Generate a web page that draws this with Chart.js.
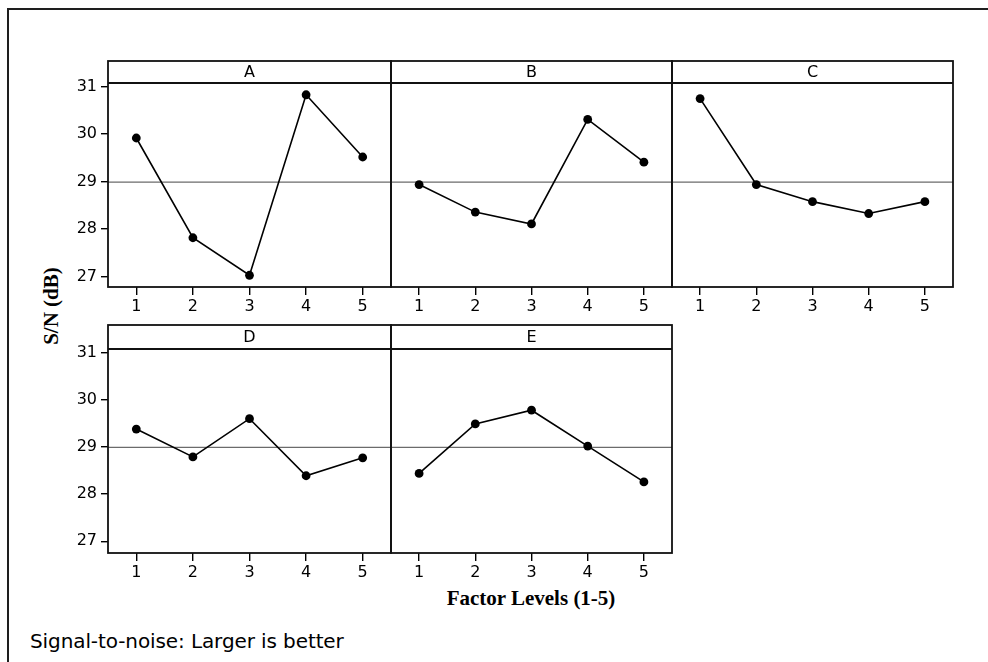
<!DOCTYPE html>
<html><head><meta charset="utf-8">
<script src="https://cdn.jsdelivr.net/npm/chart.js@4.4.1/dist/chart.umd.min.js"></script>
<style>
html,body{margin:0;padding:0;background:#fff;overflow:hidden;}
#page{position:relative;width:988px;height:662px;overflow:hidden;background:#fff;}
#frame{position:absolute;left:7px;top:8px;width:1100px;height:800px;border:2px solid #1e1e1e;}
canvas{position:absolute;left:0;top:0;}
.txt{position:absolute;white-space:nowrap;color:#000;}
#ytitle{font:bold 21px "Liberation Serif";line-height:21px;left:51px;top:306px;transform:translate(-50%,-50%) rotate(-90deg);}
#xtitle{font:bold 21px "Liberation Serif";line-height:21px;left:531px;top:598px;transform:translate(-50%,-50%);}
#note{font:20px "DejaVu Sans";line-height:20px;left:30px;top:631px;letter-spacing:-0.1px;}
</style>
</head><body>
<div id="page">
  <div id="frame"></div>
  <div class="txt" id="ytitle">S/N (dB)</div>
  <div class="txt" id="xtitle">Factor Levels (1-5)</div>
  <div class="txt" id="note">Signal-to-noise: Larger is better</div>
</div>
<script>
// ---- data ----
const levels = [1, 2, 3, 4, 5];
const yTickValues = [27, 28, 29, 30, 31];
const factorNames = ['A', 'B', 'C', 'D', 'E'];
const snA = [29.92, 27.82, 27.03, 30.83, 29.52];
const snB = [28.94, 28.36, 28.11, 30.31, 29.41];
const snC = [30.75, 28.94, 28.58, 28.33, 28.58];
const snD = [29.38, 28.79, 29.60, 28.39, 28.77];
const snE = [28.44, 29.49, 29.78, 29.02, 28.26];
const grandMean = 28.99;

// ---- layout (style) ----
const W = 988, H = 662;
const colEdges = [108, 391, 672, 953];
const rows = [
  {top: 61, bottom: 287, min: 26.783, max: 31.541, strip: 22},
  {top: 325, bottom: 553, min: 26.752, max: 31.587, strip: 24}
];
const panels = [
  {name: factorNames[0], vals: snA, row: 0, col: 0},
  {name: factorNames[1], vals: snB, row: 0, col: 1},
  {name: factorNames[2], vals: snC, row: 0, col: 2},
  {name: factorNames[3], vals: snD, row: 1, col: 0},
  {name: factorNames[4], vals: snE, row: 1, col: 1}
];
const Y_AXIS_W = 40, X_AXIS_H = 40;
const tickFont = {family: 'DejaVu Sans', size: 16};

function panelPlugin(label, stripH) {
  return {
    id: 'panelFrame',
    afterDraw(chart) {
      const ctx = chart.ctx, a = chart.chartArea;
      ctx.save();
      ctx.strokeStyle = '#111';
      ctx.lineWidth = 1.8;
      ctx.strokeRect(a.left, a.top, a.right - a.left, a.bottom - a.top);
      ctx.beginPath();
      ctx.moveTo(a.left, a.top + stripH);
      ctx.lineTo(a.right, a.top + stripH);
      ctx.stroke();
      ctx.fillStyle = '#000';
      ctx.font = '16px "DejaVu Sans"';
      ctx.textAlign = 'center';
      ctx.textBaseline = 'middle';
      ctx.fillText(label, (a.left + a.right) / 2, a.top + stripH / 2 + 1);
      ctx.restore();
    }
  };
}

const page = document.getElementById('page');
panels.forEach(p => {
  const r = rows[p.row];
  const left = colEdges[p.col], right = colEdges[p.col + 1];
  const showY = p.col === 0;
  const cv = document.createElement('canvas');
  cv.width = W; cv.height = H;
  cv.style.width = W + 'px'; cv.style.height = H + 'px';
  page.appendChild(cv);
  new Chart(cv, {
    type: 'line',
    data: {
      datasets: [
        {
          data: levels.map((x, i) => ({x: x, y: p.vals[i]})),
          borderColor: '#000', borderWidth: 1.6,
          pointRadius: 4.4, pointBackgroundColor: '#000', pointBorderColor: '#000', pointBorderWidth: 0,
          tension: 0, order: 0
        },
        {
          data: [{x: 0.5, y: grandMean}, {x: 5.5, y: grandMean}],
          borderColor: '#6b6b6b', borderWidth: 1.3, pointRadius: 0, order: 1
        }
      ]
    },
    options: {
      responsive: false, animation: false, events: [],
      layout: {padding: {
        left: left - (showY ? Y_AXIS_W : 0),
        top: r.top,
        right: W - right,
        bottom: H - r.bottom - X_AXIS_H
      }},
      plugins: {legend: {display: false}, tooltip: {enabled: false}, title: {display: false}},
      scales: {
        x: {
          type: 'linear', min: 0.5, max: 5.5,
          afterBuildTicks: s => { s.ticks = levels.map(v => ({value: v})); },
          afterFit: s => { s.height = X_AXIS_H; },
          grid: {drawOnChartArea: false, drawTicks: true, tickLength: 8, color: '#000', lineWidth: 1.4},
          border: {display: false},
          ticks: {color: '#000', font: tickFont, padding: 2, maxRotation: 0, autoSkip: false}
        },
        y: {
          type: 'linear', display: showY, min: r.min, max: r.max,
          afterBuildTicks: s => { s.ticks = yTickValues.map(v => ({value: v})); },
          afterFit: s => { s.width = showY ? Y_AXIS_W : 0; },
          grid: {drawOnChartArea: false, drawTicks: true, tickLength: 7, color: '#000', lineWidth: 1.4},
          border: {display: false},
          ticks: {color: '#000', font: tickFont, padding: 4, autoSkip: false}
        }
      }
    },
    plugins: [panelPlugin(p.name, r.strip)]
  });
});
</script>
</body></html>
